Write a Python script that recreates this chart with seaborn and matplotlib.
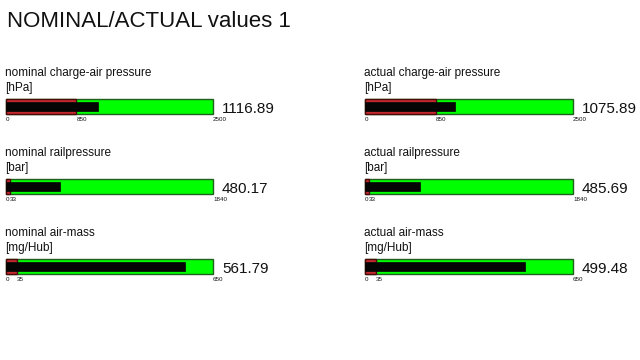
import matplotlib
matplotlib.use("Agg")
import matplotlib.pyplot as plt
import matplotlib.transforms as mtransforms
import seaborn as sns
import pandas as pd

# ---- data ----
title = "NOMINAL/ACTUAL values 1"
labels_nominal = ["nominal charge-air pressure", "nominal railpressure", "nominal air-mass"]
labels_actual = ["actual charge-air pressure", "actual railpressure", "actual air-mass"]
units = ["[hPa]", "[bar]", "[mg/Hub]"]
scale_min = [0, 0, 0]
thresholds = [850, 33, 35]
scale_max = [2500, 1840, 650]
nominal_values = [1116.89, 480.17, 561.79]
actual_values = [1075.89, 485.69, 499.48]

sns.set_theme(style="white")
plt.rcParams["font.family"] = ["Liberation Sans", "DejaVu Sans"]

W, H = 640, 360
fig = plt.figure(figsize=(6.4, 3.6), dpi=100)
fig.patch.set_facecolor("white")

fig.text(7 / W, 1 - 27 / H, title, fontsize=16, va="baseline", ha="left", color="#111111")

GREEN, GREEN_EDGE = "#00ff00", "#1f5f1f"
RED, RED_EDGE = "#c42a2e", "#4a0a0a"
BLACK = "#050505"


def gauge(x0, w, y0, name, unit, lo, thr, hi, val):
    h = 15
    ax = fig.add_axes([x0 / W, 1 - (y0 + h) / H, w / W, h / H])
    df_max = pd.DataFrame({"gauge": [name], "value": [hi]})
    df_thr = pd.DataFrame({"gauge": [name], "value": [thr]})
    df_val = pd.DataFrame({"gauge": [name], "value": [val]})
    sns.barplot(data=df_max, x="value", y="gauge", orient="h", color=GREEN,
                edgecolor=GREEN_EDGE, linewidth=1.0, width=1.0, saturation=1, ax=ax)
    sns.barplot(data=df_thr, x="value", y="gauge", orient="h", color=RED,
                edgecolor=RED_EDGE, linewidth=1.0, width=1.0, saturation=1, ax=ax)
    sns.barplot(data=df_val, x="value", y="gauge", orient="h", color=BLACK,
                edgecolor=BLACK, linewidth=0.5, width=0.62, saturation=1, ax=ax)
    for p in ax.patches:
        p.set_clip_on(False)
    ax.set_xlim(lo, hi)
    ax.set_ylim(0.5, -0.5)
    ax.set_xlabel("")
    ax.set_ylabel("")
    ax.set_yticks([])
    for s in ax.spines.values():
        s.set_visible(False)
    ax.set_facecolor("none")
    ticks = [lo, thr, hi]
    ax.set_xticks(ticks)
    ax.set_xticklabels([f"{t:g}" for t in ticks], fontsize=4.5, ha="left", color="#111111")
    ax.tick_params(axis="x", length=0, pad=2.5)
    tr = mtransforms.offset_copy(ax.transAxes, fig=fig, x=9, y=-2.5, units="dots")
    ax.text(1.0, 0.5, f"{val:.2f}", transform=tr, fontsize=11, ha="left", va="center",
            color="#111111")
    fig.text((x0 - 1) / W, 1 - (y0 - 23) / H, name, fontsize=8.5, va="baseline",
             ha="left", color="#111111")
    fig.text((x0 - 1) / W, 1 - (y0 - 8) / H, unit, fontsize=8.5, va="baseline",
             ha="left", color="#111111")


for i in range(3):
    y0 = 99 + 80 * i
    gauge(6, 207, y0, labels_nominal[i], units[i], scale_min[i], thresholds[i],
          scale_max[i], nominal_values[i])
    gauge(365, 208, y0, labels_actual[i], units[i], scale_min[i], thresholds[i],
          scale_max[i], actual_values[i])

fig.savefig("out.png", dpi=100, facecolor="white")
